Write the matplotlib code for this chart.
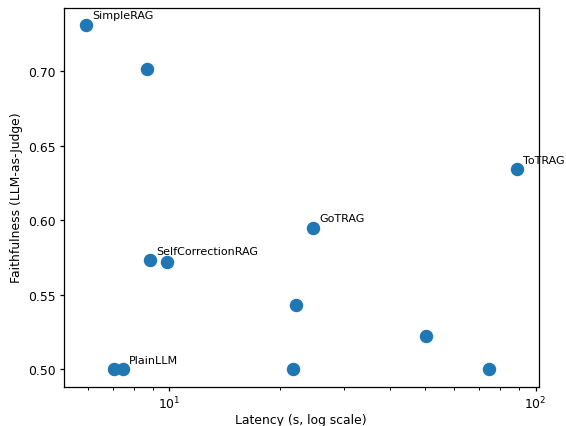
import matplotlib
matplotlib.use("Agg")
import matplotlib.pyplot as plt

# latency (s) vs faithfulness per pipeline run
latency = [5.9, 8.67, 88.9, 24.7, 8.84, 9.84, 22.2, 50.1, 74.6, 21.8, 7.05, 7.46]
faithfulness = [0.731, 0.701, 0.634, 0.595, 0.573, 0.572, 0.543, 0.522, 0.500, 0.500, 0.500, 0.500]
labels = ["SimpleRAG", "", "ToTRAG", "GoTRAG", "SelfCorrectionRAG", "", "", "", "", "", "", "PlainLLM"]

plt.rcParams["font.size"] = 8.9
plt.rcParams["axes.linewidth"] = 0.9
plt.rcParams["xtick.major.width"] = 0.9
plt.rcParams["ytick.major.width"] = 0.9
plt.rcParams["xtick.major.size"] = 3.1
plt.rcParams["ytick.major.size"] = 3.1
plt.rcParams["xtick.minor.size"] = 1.8
plt.rcParams["xtick.minor.width"] = 0.7
plt.rcParams["xtick.major.pad"] = 3.1
plt.rcParams["ytick.major.pad"] = 3.1

fig = plt.figure(figsize=(5.66, 4.27), dpi=100)
ax = fig.add_axes([64 / 566, 1 - 387.5 / 427, 474.5 / 566, 379 / 427])

ax.scatter(latency, faithfulness, s=75)
for x, y, name in zip(latency, faithfulness, labels):
    if name:
        ax.annotate(name, (x, y), xytext=(4.5, 4.5), textcoords="offset points", fontsize=8)

ax.set_xscale("log")
ax.set_xlabel("Latency (s, log scale)", labelpad=0.8)
ax.set_ylabel("Faithfulness (LLM-as-Judge)", labelpad=3.1)

plt.savefig("out.png", dpi=100)
plt.close()
